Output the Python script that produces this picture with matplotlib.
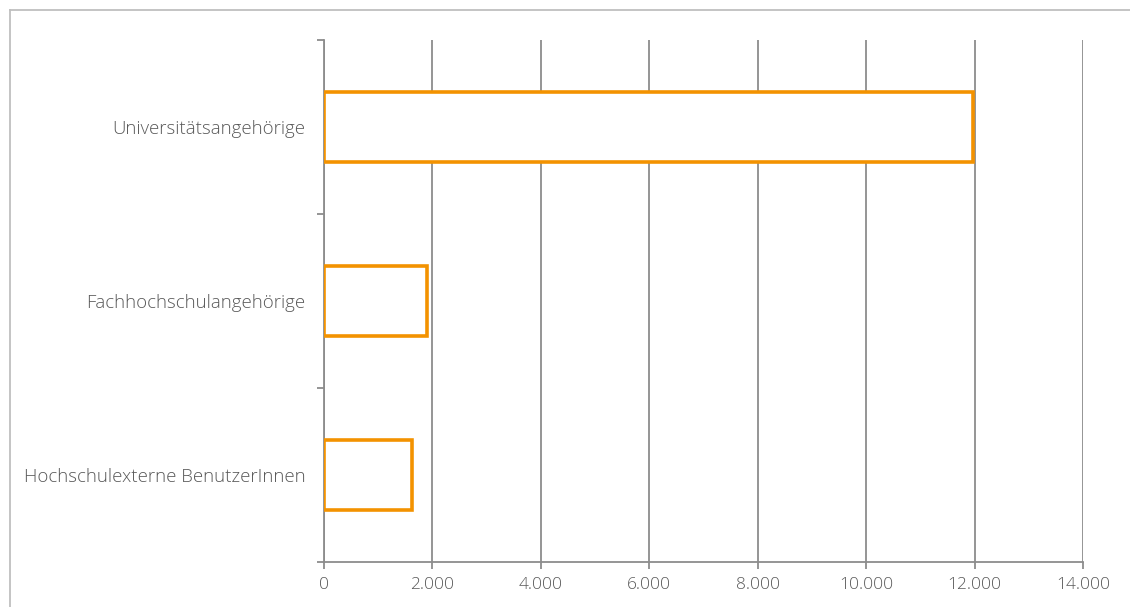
import matplotlib
matplotlib.use("Agg")
import matplotlib.pyplot as plt
from matplotlib.lines import Line2D
from matplotlib.ticker import FuncFormatter

categories = ["Universitätsangehörige", "Fachhochschulangehörige", "Hochschulexterne BenutzerInnen"]
values = [11970, 1900, 1620]
xticks = [0, 2000, 4000, 6000, 8000, 10000, 12000, 14000]

plt.rcParams['font.family'] = ['Open Sans', 'DejaVu Sans']
plt.rcParams['font.weight'] = 'light'

fig = plt.figure(figsize=(11.3, 6.07), dpi=100)
ax = fig.add_axes([324/1130, 1-562/607, (1083-324)/1130, (562-40)/607])

grey = "#8c8c8c"
txt = "#595959"
orange = "#F39200"

pos = list(range(len(categories)))
ax.barh(pos, values, height=0.4, facecolor="white", edgecolor=orange, linewidth=2.6, zorder=3)

ax.set_xlim(0, 14000)
ax.set_ylim(len(categories)-0.5, -0.5)
ax.set_xticks(xticks)
ax.xaxis.set_major_formatter(FuncFormatter(lambda v, p: f"{int(v):,}".replace(",", ".")))
ax.set_yticks(pos)
ax.set_yticklabels(categories)
ax.set_yticks([p - 0.5 for p in range(len(categories)+1)], minor=True)

ax.grid(axis="x", color=grey, linewidth=1.3, zorder=0)
ax.set_axisbelow(True)
for s in ["top", "right"]:
    ax.spines[s].set_visible(False)
for s in ["left", "bottom"]:
    ax.spines[s].set_color(grey)
    ax.spines[s].set_linewidth(1.3)

ax.tick_params(axis="y", which="major", length=0, pad=13.5, labelsize=13.4, labelcolor=txt)
ax.tick_params(axis="y", which="minor", length=5, width=1.3, color=grey)
ax.tick_params(axis="x", which="major", length=5, width=1.3, color=grey, labelsize=12.5, labelcolor=txt, pad=6)

bx = 9.5 / 1130
by = 1 - 9.5 / 607
fig.add_artist(Line2D([bx, bx], [0, by], transform=fig.transFigure, color="#bfbfbf", linewidth=1.3,
                      solid_capstyle="projecting"))
fig.add_artist(Line2D([bx, 1.05], [by, by], transform=fig.transFigure, color="#bfbfbf", linewidth=1.3,
                      solid_capstyle="projecting", clip_on=False))

fig.savefig("out.png", dpi=100, facecolor="white")
